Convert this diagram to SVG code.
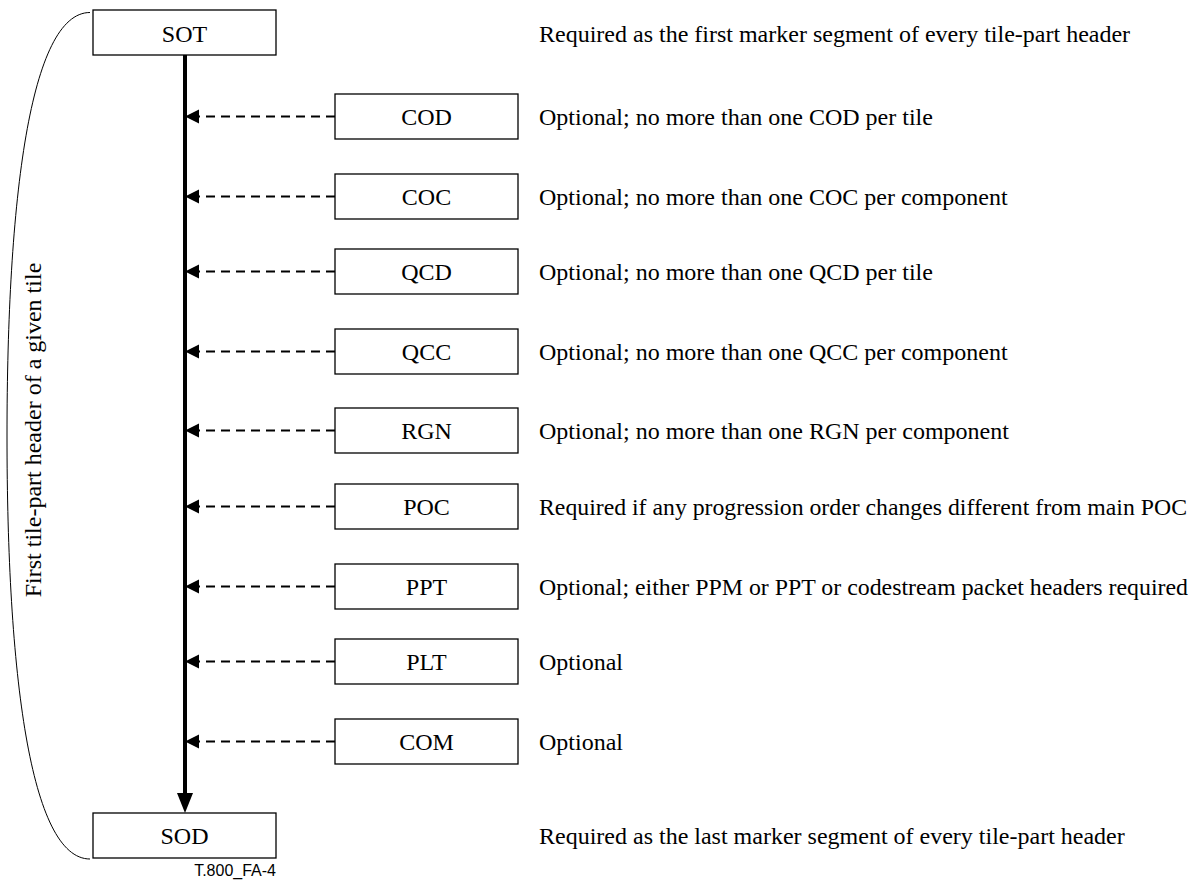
<svg xmlns="http://www.w3.org/2000/svg" width="1194" height="881" viewBox="0 0 1194 881">
<style>
.box{fill:#fff;stroke:#000;stroke-width:1.3}
.lbl{font-family:"Liberation Serif","Times New Roman",serif;font-size:24px;fill:#000;text-anchor:middle}
.desc{font-family:"Liberation Serif","Times New Roman",serif;font-size:24px;fill:#000}
.dash{stroke:#000;stroke-width:2;stroke-dasharray:9,6;fill:none}
.ah{fill:#000}
</style>
<rect width="1194" height="881" fill="#fff"/>
<path d="M90,12.5 C30,12.5 7,200 7,436 C7,672 30,859 90,859" fill="none" stroke="#000" stroke-width="1"/>
<text class="lbl" transform="translate(41,430) rotate(-90)">First tile-part header of a given tile</text>
<g id="connectors">
<line x1="185" y1="55" x2="185" y2="795" stroke="#000" stroke-width="4"/>
<polygon class="ah" points="177,793 193,793 185,813"/>
<path class="dash" d="M335,116.5 H199"/><polygon class="ah" points="185,116.5 199,109.5 199,123.5"/>
<path class="dash" d="M335,196.5 H199"/><polygon class="ah" points="185,196.5 199,189.5 199,203.5"/>
<path class="dash" d="M335,271.5 H199"/><polygon class="ah" points="185,271.5 199,264.5 199,278.5"/>
<path class="dash" d="M335,351.5 H199"/><polygon class="ah" points="185,351.5 199,344.5 199,358.5"/>
<path class="dash" d="M335,430.5 H199"/><polygon class="ah" points="185,430.5 199,423.5 199,437.5"/>
<path class="dash" d="M335,506.5 H199"/><polygon class="ah" points="185,506.5 199,499.5 199,513.5"/>
<path class="dash" d="M335,586.5 H199"/><polygon class="ah" points="185,586.5 199,579.5 199,593.5"/>
<path class="dash" d="M335,661.5 H199"/><polygon class="ah" points="185,661.5 199,654.5 199,668.5"/>
<path class="dash" d="M335,741.5 H199"/><polygon class="ah" points="185,741.5 199,734.5 199,748.5"/>
</g>
<g id="SOT"><rect class="box" x="93" y="10" width="183" height="45"/><text class="lbl" x="184.5" y="42">SOT</text><text class="desc" x="539" y="42">Required as the first marker segment of every tile-part header</text></g>
<g id="COD"><rect class="box" x="335" y="94" width="183" height="45"/><text class="lbl" x="426.5" y="125">COD</text><text class="desc" x="539" y="125">Optional; no more than one COD per tile</text></g>
<g id="COC"><rect class="box" x="335" y="174" width="183" height="45"/><text class="lbl" x="426.5" y="205">COC</text><text class="desc" x="539" y="205">Optional; no more than one COC per component</text></g>
<g id="QCD"><rect class="box" x="335" y="249" width="183" height="45"/><text class="lbl" x="426.5" y="280">QCD</text><text class="desc" x="539" y="280">Optional; no more than one QCD per tile</text></g>
<g id="QCC"><rect class="box" x="335" y="329" width="183" height="45"/><text class="lbl" x="426.5" y="360">QCC</text><text class="desc" x="539" y="360">Optional; no more than one QCC per component</text></g>
<g id="RGN"><rect class="box" x="335" y="408" width="183" height="45"/><text class="lbl" x="426.5" y="439">RGN</text><text class="desc" x="539" y="439">Optional; no more than one RGN per component</text></g>
<g id="POC"><rect class="box" x="335" y="484" width="183" height="45"/><text class="lbl" x="426.5" y="515">POC</text><text class="desc" x="539" y="515" textLength="648" lengthAdjust="spacingAndGlyphs">Required if any progression order changes different from main POC</text></g>
<g id="PPT"><rect class="box" x="335" y="564" width="183" height="45"/><text class="lbl" x="426.5" y="595">PPT</text><text class="desc" x="539" y="595" textLength="649" lengthAdjust="spacingAndGlyphs">Optional; either PPM or PPT or codestream packet headers required</text></g>
<g id="PLT"><rect class="box" x="335" y="639" width="183" height="45"/><text class="lbl" x="426.5" y="670">PLT</text><text class="desc" x="539" y="670">Optional</text></g>
<g id="COM"><rect class="box" x="335" y="719" width="183" height="45"/><text class="lbl" x="426.5" y="750">COM</text><text class="desc" x="539" y="750">Optional</text></g>
<g id="SOD"><rect class="box" x="93" y="813" width="183" height="45"/><text class="lbl" x="184.5" y="844">SOD</text><text class="desc" x="539" y="844">Required as the last marker segment of every tile-part header</text></g>
<text x="276" y="876" font-family="Liberation Sans, Arial, sans-serif" font-size="16" text-anchor="end">T.800_FA-4</text>
</svg>
